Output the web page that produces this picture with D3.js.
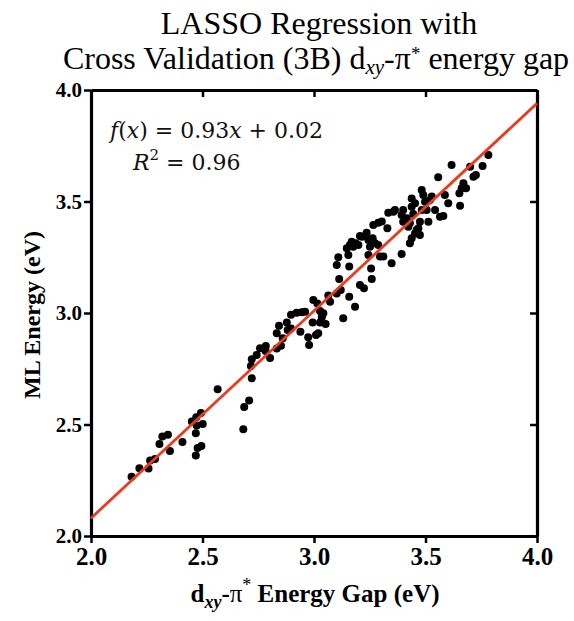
<!DOCTYPE html>
<html>
<head>
<meta charset="utf-8">
<script src="https://cdn.jsdelivr.net/npm/d3@7"></script>
<style>
  body { margin: 0; background: #fff; }
  svg { display: block; }
</style>
</head>
<body>
<div id="chart"></div>
<script>
// DFT d_xy-pi* gap (x) vs ML predicted energy (y)
var gapValues = [2.182, 2.217, 2.258, 2.265, 2.287, 2.307, 2.320, 2.345, 2.354, 2.410,
  2.452, 2.472, 2.493, 2.474, 2.501, 2.470, 2.478, 2.495, 2.470, 2.568,
  2.683, 2.687, 2.709, 2.721, 2.717, 2.721, 2.743, 2.758, 2.784, 2.783,
  2.803, 2.833, 2.843, 2.860, 2.878, 2.897, 2.922, 2.945, 2.882, 2.897,
  2.852, 2.833, 2.939, 2.974, 2.978, 2.994, 2.997, 3.015, 3.027, 3.035,
  3.027, 3.052, 3.019, 3.009, 3.042, 3.064, 3.072, 3.102, 2.960, 3.131,
  3.102, 3.109, 3.154, 3.158, 3.113, 3.120, 3.158, 3.184, 3.206, 3.224,
  3.256, 3.259, 3.244, 3.147, 3.161, 3.169, 3.176, 3.188, 3.199, 3.206,
  3.215, 3.236, 3.244, 3.251, 3.266, 3.288, 3.304, 3.263, 3.274, 3.288,
  3.296, 3.311, 3.329, 3.333, 3.356, 3.348, 3.393,
  3.363, 3.393, 3.400, 3.416, 3.400, 3.423, 3.430, 3.438, 3.438, 3.453,
  3.445, 3.453, 3.468, 3.475, 3.460, 3.430, 3.438, 3.475, 3.483, 3.483,
  3.490, 3.498, 3.505, 3.513, 3.520, 3.528, 3.543, 3.565, 3.580, 3.557,
  3.587, 3.602, 3.617, 3.655, 3.652, 3.662, 3.670, 3.682, 3.700, 3.715,
  3.726, 3.756, 3.782];
var mlValues = [2.266, 2.304, 2.303, 2.339, 2.345, 2.413, 2.446, 2.454, 2.381, 2.422,
  2.513, 2.532, 2.552, 2.496, 2.502, 2.461, 2.395, 2.404, 2.361, 2.658,
  2.479, 2.578, 2.608, 2.707, 2.762, 2.793, 2.812, 2.842, 2.852, 2.830,
  2.798, 2.909, 2.943, 2.887, 2.957, 2.992, 3.001, 3.003, 2.924, 2.931,
  2.853, 2.841, 2.916, 2.891, 2.857, 2.957, 3.058, 3.043, 3.009, 2.981,
  2.957, 2.951, 2.909, 2.901, 2.999, 3.078, 3.051, 3.088, 3.006, 2.976,
  3.215, 3.250, 3.260, 3.208, 3.152, 3.103, 3.073, 3.028, 3.126, 3.111,
  3.200, 3.152, 3.260, 3.290, 3.305, 3.320, 3.297, 3.313, 3.305, 3.345,
  3.342, 3.360, 3.327, 3.297, 3.395, 3.405, 3.410, 3.335, 3.313, 3.305,
  3.253, 3.253, 3.380, 3.450, 3.454, 3.223, 3.265,
  3.462, 3.439, 3.462, 3.425, 3.409, 3.387, 3.402, 3.477, 3.514, 3.492,
  3.444, 3.357, 3.380, 3.409, 3.372, 3.313, 3.335, 3.350, 3.462, 3.552,
  3.529, 3.499, 3.462, 3.409, 3.507, 3.522, 3.462, 3.432, 3.435, 3.609,
  3.529, 3.492, 3.664, 3.481, 3.537, 3.559, 3.582, 3.559, 3.656, 3.611,
  3.619, 3.659, 3.709];

// fitted line as drawn (end points at x = 2 and x = 4)
var fitX = [2.0, 4.0];
var fitY = [2.08, 3.94];

var tickValues = [2.0, 2.5, 3.0, 3.5, 4.0];

var serif = "Liberation Serif";

var svgWidth = 574;
var svgHeight = 621;
var margin = { top: 90, right: 37, bottom: 85, left: 91 };
var chartWidth = svgWidth - margin.left - margin.right;
var chartHeight = svgHeight - margin.top - margin.bottom;

var svg = d3.select("#chart").append("svg")
  .attr("width", svgWidth)
  .attr("height", svgHeight);

var chartGroup = svg.append("g")
  .attr("transform", `translate(${margin.left}, ${margin.top})`);

var xScale = d3.scaleLinear().domain([2, 4]).range([0, chartWidth]);
var yScale = d3.scaleLinear().domain([2, 4]).range([chartHeight, 0]);

var fmt = d3.format(".1f");

// title
var title = svg.append("text")
  .attr("text-anchor", "middle")
  .attr("font-family", serif)
  .attr("font-size", 32)
  .attr("fill", "#000");
title.append("tspan").attr("x", 319).attr("y", 34).text("LASSO Regression with");
var t2 = title.append("tspan").attr("x", 316).attr("y", 69);
t2.append("tspan").text("Cross Validation (3B) d");
t2.append("tspan").attr("dy", 5).attr("font-style", "italic").attr("font-size", 21).text("xy");
t2.append("tspan").attr("dy", -5).text("-\u03c0");
t2.append("tspan").attr("dy", -9).attr("font-size", 19).text("*");
t2.append("tspan").attr("dy", 9).text(" energy gap");

// axes
function styleAxis(g) {
  g.attr("font-family", serif);
  g.select(".domain").attr("stroke-width", 3.2);
  g.selectAll(".tick line").attr("stroke-width", 2.5);
  g.selectAll(".tick text")
    .attr("font-weight", "bold")
    .attr("fill", "#000");
}

var xAxis = d3.axisBottom(xScale).tickValues(tickValues).tickFormat(fmt).tickSize(7).tickSizeOuter(0).tickPadding(4);
var yAxis = d3.axisLeft(yScale).tickValues(tickValues).tickFormat(fmt).tickSize(7).tickSizeOuter(0).tickPadding(2);

chartGroup.append("g")
  .attr("transform", `translate(0, ${chartHeight})`)
  .call(xAxis)
  .call(styleAxis)
  .attr("font-size", 25);

chartGroup.append("g")
  .call(yAxis)
  .call(styleAxis)
  .attr("font-size", 21);

chartGroup.append("g")
  .call(d3.axisTop(xScale).tickValues(tickValues).tickSize(-7).tickSizeOuter(0).tickFormat(""))
  .call(styleAxis);

chartGroup.append("g")
  .attr("transform", `translate(${chartWidth}, 0)`)
  .call(d3.axisRight(yScale).tickValues(tickValues).tickSize(-7).tickSizeOuter(0).tickFormat(""))
  .call(styleAxis);

// axis labels
svg.append("text")
  .attr("text-anchor", "middle")
  .attr("transform", "rotate(-90)")
  .attr("x", -315)
  .attr("y", 40)
  .attr("font-family", serif)
  .attr("font-weight", "bold")
  .attr("font-size", 24)
  .text("ML Energy (eV)");

var xl = svg.append("text")
  .attr("text-anchor", "middle")
  .attr("x", 315)
  .attr("y", 602)
  .attr("font-family", serif)
  .attr("font-weight", "bold")
  .attr("font-size", 25);
xl.append("tspan").text("d");
xl.append("tspan").attr("dy", 6).attr("font-style", "italic").attr("font-size", 18).text("xy");
xl.append("tspan").attr("dy", -6).text("-");
xl.append("tspan").attr("font-weight", "normal").text("\u03c0");
xl.append("tspan").attr("dy", -11).attr("font-weight", "normal").attr("font-size", 18).text("*");
xl.append("tspan").attr("dy", 11).text(" Energy Gap (eV)");

// points
var points = gapValues.map(function(g, i) { return { x: g, y: mlValues[i] }; });

chartGroup.append("g").selectAll("circle")
  .data(points)
  .enter()
  .append("circle")
  .attr("cx", function (d) { return xScale(d.x); })
  .attr("cy", function (d) { return yScale(d.y); })
  .attr("r", 4)
  .attr("fill", "#000");

// fit line
chartGroup.append("line")
  .attr("x1", xScale(fitX[0]))
  .attr("y1", yScale(fitY[0]))
  .attr("x2", xScale(fitX[1]))
  .attr("y2", yScale(fitY[1]))
  .attr("stroke", "#ec3a1e")
  .attr("stroke-width", 2.8);

// equation
var eq = svg.append("text")
  .attr("font-family", "DejaVu Serif")
  .attr("font-size", 22)
  .attr("fill", "#111");
var l1 = eq.append("tspan").attr("x", 110).attr("y", 138);
l1.append("tspan").attr("font-style", "italic").text("f");
l1.append("tspan").text("(");
l1.append("tspan").attr("font-style", "italic").text("x");
l1.append("tspan").text(") = 0.93");
l1.append("tspan").attr("font-style", "italic").text("x");
l1.append("tspan").text(" + 0.02");
var l2 = eq.append("tspan").attr("x", 133).attr("y", 170);
l2.append("tspan").attr("font-style", "italic").text("R");
l2.append("tspan").attr("dy", -10).attr("font-size", 15).text("2");
l2.append("tspan").attr("dy", 10).text(" = 0.96");
</script>
</body>
</html>
